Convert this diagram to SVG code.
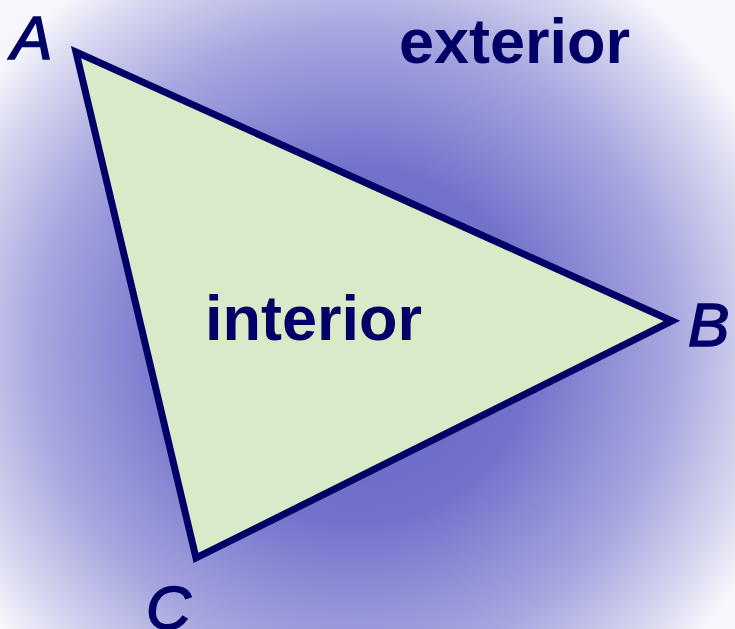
<svg xmlns="http://www.w3.org/2000/svg" width="735" height="629" viewBox="0 0 735 629">
  <defs>
    <radialGradient id="bg" gradientUnits="userSpaceOnUse" cx="355" cy="345" r="450">
      <stop offset="0" stop-color="#6262c6"/>
      <stop offset="0.4" stop-color="#7373cc"/>
      <stop offset="0.7" stop-color="#a6a6df"/>
      <stop offset="0.9" stop-color="#d8d8f0"/>
      <stop offset="1" stop-color="#f6f6fc"/>
    </radialGradient>
    <style>
      .vlabel { font-family: "Liberation Sans", Arial, sans-serif; font-style: italic; font-size: 62px; fill: #000066; stroke: #000066; stroke-width: 1.6; }
      .region { font-family: "Liberation Sans", Arial, sans-serif; font-weight: bold; font-size: 63px; fill: #000066; }
      .tri { fill: #d9eac8; stroke: #000066; stroke-width: 7; stroke-linejoin: miter; }
    </style>
  </defs>
  <rect x="0" y="0" width="735" height="629" fill="url(#bg)"/>
  <g id="triangle">
    <polygon class="tri" points="76,52 672,321 196,558"/>
  </g>
  <g id="labels">
    <text class="vlabel" x="11" y="59">A</text>
    <text class="vlabel" x="688" y="346">B</text>
    <text class="vlabel" x="146" y="629">C</text>
    <text class="region" x="399" y="63">exterior</text>
    <text class="region" x="205" y="340">interior</text>
  </g>
</svg>
